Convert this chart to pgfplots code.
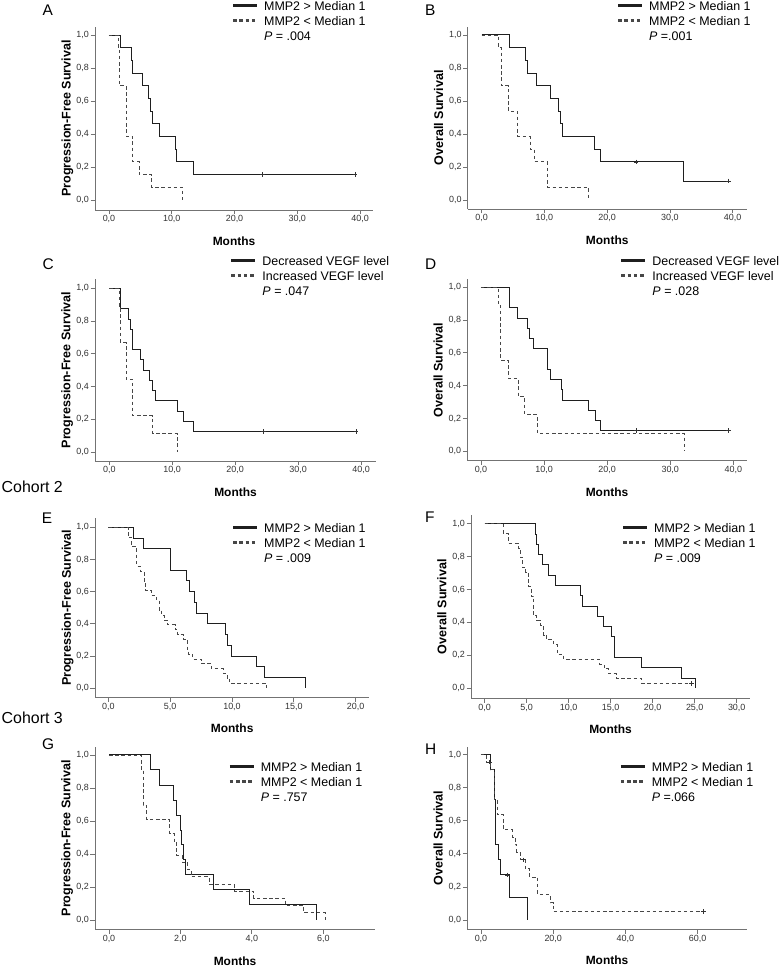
\documentclass[border=0pt]{standalone}
\usepackage{fontspec}
\setmainfont{Liberation Sans}
\usepackage{pgfplots}
\pgfplotsset{compat=1.18}

\pgfplotsset{
  km/.style={
    scale only axis,
    axis lines=left,
    axis line style={-, black!55, line width=0.8bp},
    tick align=outside,
    major tick length=4.5bp,
    tick style={black!55, line width=0.8bp},
    enlargelimits=false,
    ytick={0,0.2,0.4,0.6,0.8,1},
    ymin=-0.058, ymax=1.05,
    /pgf/number format/assume math mode=true,
    /pgf/number format/.cd, fixed, fixed zerofill, precision=1, use comma, /pgfplots/.cd,
    ticklabel style={font=\fontsize{9}{10}\selectfont, text=black!80},
    xticklabel style={inner sep=1bp},
    yticklabel style={inner sep=1.5bp},
    xlabel={Months},
    xlabel style={at={(axis description cs:0.5,0)}, anchor=base, yshift=-35.5bp,
      font=\bfseries\fontsize{12}{14}\selectfont},
    ylabel style={at={(axis description cs:-0.088,0.5)}, anchor=base,
      font=\bfseries\fontsize{12.6}{14}\selectfont},
    legend cell align=left,
    legend style={draw=none, fill=none, inner sep=0pt, outer sep=0pt, anchor=north west,
      row sep=5.9bp, column sep=5.5bp, font=\fontsize{12.5}{14}\selectfont,
      nodes={inner sep=0pt, text height=9.1bp, text depth=0bp}},
    legend image code/.code={\draw[#1, line width=3bp] (0bp,0bp) -- (24bp,0bp);},
  },
  hi/.style={const plot, draw=black!88, line width=0.95bp, mark=none},
  lo/.style={const plot, draw=black!72, line width=0.8bp, mark=none, dash pattern=on 3.5bp off 2.7bp},
  cens/.style={only marks, mark=+, mark size=2.3bp, mark options={black!80, line width=0.7bp}, forget plot},
}

\newcommand{\panel}[3]{\node[anchor=base west, inner sep=0pt, font=\fontsize{15.5}{16}\selectfont] at (#1bp,#2bp) {#3};}

\begin{document}
\begin{tikzpicture}
\path[use as bounding box] (0,0) rectangle (780bp,967bp);

% ---------- A ----------
\begin{axis}[km, at={(95bp,757bp)}, anchor=south west, width=278bp, height=183bp,
  xmin=-2.23, xmax=42.07, ymin=-0.0606, ymax=1.0485, xtick={0,10,20,30,40},
  ylabel={Progression-Free Survival},
  legend style={at={(axis description cs:0.4917,1.1396)}}]
\addplot[hi] coordinates {(0,1) (1.85,0.923) (3.6,0.846) (3.75,0.769) (5.35,0.692) (6.25,0.615) (6.55,0.538) (6.95,0.462) (8.0,0.385) (10.65,0.308) (10.8,0.231) (13.4,0.154) (39.2,0.154)};
\addlegendentry{MMP2 > Median 1}
\addplot[lo] coordinates {(0,1) (1.5,0.923) (1.6,0.692) (2.7,0.615) (2.75,0.385) (3.8,0.231) (4.8,0.154) (6.8,0.077) (11.7,0)};
\addlegendentry{MMP2 < Median 1}
\addlegendimage{empty legend}
\addlegendentry{\textit{P} = .004}
\addplot[cens] coordinates {(24.5,0.154) (39.2,0.154)};
\end{axis}

% ---------- B ----------
\begin{axis}[km, at={(467.7bp,758bp)}, anchor=south west, width=279bp, height=182.3bp,
  xmin=-2.23, xmax=42.23, ymin=-0.0545, ymax=1.05, xtick={0,10,20,30,40},
  ylabel={Overall Survival},
  legend style={at={(axis description cs:0.534,1.1385)}}]
\addplot[hi] coordinates {(0,1) (4.4,0.923) (6.9,0.846) (7.35,0.769) (8.75,0.692) (10.9,0.615) (12.2,0.538) (12.6,0.462) (12.8,0.385) (17.9,0.308) (18.85,0.231) (32.15,0.115) (39.3,0.115)};
\addlegendentry{MMP2 > Median 1}
\addplot[lo] coordinates {(0,1) (2.65,0.923) (3.1,0.692) (4.25,0.538) (5.75,0.385) (7.7,0.308) (8.4,0.231) (10.45,0.077) (17.05,0)};
\addlegendentry{MMP2 < Median 1}
\addlegendimage{empty legend}
\addlegendentry{\textit{P} =.001}
\addplot[cens] coordinates {(24.6,0.231) (39.3,0.115)};
\end{axis}

% ---------- C ----------
\begin{axis}[km, at={(95bp,506bp)}, anchor=south west, width=281bp, height=181.7bp,
  xmin=-2.27, xmax=42.38, ymin=-0.055, ymax=1.0556, xtick={0,10,20,30,40},
  ylabel={Progression-Free Survival},
  legend style={at={(axis description cs:0.4804,1.1274)}}]
\addplot[hi] coordinates {(0,1) (1.8,0.875) (3.05,0.8125) (3.4,0.75) (3.7,0.625) (5.0,0.5625) (5.5,0.5) (6.45,0.4375) (6.9,0.375) (7.3,0.3125) (10.8,0.25) (11.75,0.1875) (13.45,0.125) (39.2,0.125)};
\addlegendentry{Decreased VEGF level}
\addplot[lo] coordinates {(0,1) (1.6,0.889) (1.8,0.667) (2.65,0.444) (3.7,0.222) (6.9,0.111) (10.85,0)};
\addlegendentry{Increased VEGF level}
\addlegendimage{empty legend}
\addlegendentry{\textit{P} = .047}
\addplot[cens] coordinates {(24.5,0.125) (39.2,0.125)};
\end{axis}

% ---------- D ----------
\begin{axis}[km, at={(467.3bp,506.3bp)}, anchor=south west, width=279.4bp, height=181.4bp,
  xmin=-2.17, xmax=42.12, ymin=-0.0573, ymax=1.0488, xtick={0,10,20,30,40},
  ylabel={Overall Survival},
  legend style={at={(axis description cs:0.5465,1.1276)}}]
\addplot[hi] coordinates {(0,1) (4.5,0.875) (5.8,0.8125) (7.4,0.75) (7.75,0.6875) (8.3,0.625) (10.55,0.5) (10.95,0.4375) (12.8,0.375) (12.95,0.3125) (17.0,0.25) (18.2,0.1875) (18.95,0.125) (39.2,0.125)};
\addlegendentry{Decreased VEGF level}
\addplot[lo] coordinates {(0,1) (2.75,0.889) (3.15,0.556) (4.35,0.444) (5.9,0.333) (6.95,0.222) (8.9,0.111) (32.2,0)};
\addlegendentry{Increased VEGF level}
\addlegendimage{empty legend}
\addlegendentry{\textit{P} = .028}
\addplot[cens] coordinates {(24.6,0.125) (39.2,0.125)};
\end{axis}

% ---------- E ----------
\begin{axis}[km, at={(95bp,269.7bp)}, anchor=south west, width=274.3bp, height=179bp,
  xmin=-1.075, xmax=21.1, ymin=-0.056, ymax=1.056, xtick={0,5,10,15,20},
  ylabel={Progression-Free Survival},
  legend style={at={(axis description cs:0.4984,0.9729)}}]
\addplot[hi] coordinates {(0,1) (2.0,0.933) (2.85,0.867) (5.0,0.733) (6.35,0.667) (6.6,0.6) (6.95,0.533) (7.1,0.467) (8.05,0.4) (9.45,0.333) (9.65,0.267) (9.95,0.2) (12.0,0.133) (12.6,0.067) (15.95,0)};
\addlegendentry{MMP2 > Median 1}
\addplot[lo] coordinates {(0,1) (1.6,0.939) (1.9,0.879) (2.3,0.758) (2.6,0.727) (2.9,0.667) (3.0,0.606) (3.5,0.576) (3.9,0.545) (4.1,0.485) (4.3,0.455) (4.5,0.424) (4.8,0.394) (5.4,0.364) (5.6,0.333) (6.1,0.303) (6.4,0.242) (6.5,0.212) (6.8,0.182) (7.5,0.152) (8.3,0.121) (9.3,0.091) (9.6,0.061) (9.8,0.030) (12.8,0)};
\addlegendentry{MMP2 < Median 1}
\addlegendimage{empty legend}
\addlegendentry{\textit{P} = .009}
\end{axis}

% ---------- F ----------
\begin{axis}[km, at={(471bp,268.7bp)}, anchor=south west, width=279bp, height=183.3bp,
  xmin=-1.63, xmax=31.58, ymin=-0.061, ymax=1.053, xtick={0,5,10,15,20,25,30},
  ylabel={Overall Survival},
  legend style={at={(axis description cs:0.5401,0.9555)}}]
\addplot[hi] coordinates {(0,1) (6.0,0.9375) (6.2,0.875) (6.45,0.8125) (6.9,0.75) (7.6,0.6875) (8.45,0.625) (11.35,0.5625) (11.65,0.5) (13.45,0.4375) (14.15,0.375) (15.05,0.3125) (15.4,0.1875) (18.7,0.125) (23.45,0.0625) (25.05,0)};
\addlegendentry{MMP2 > Median 1}
\addplot[lo] coordinates {(0,1) (2.2,0.941) (2.8,0.882) (4.0,0.853) (4.2,0.794) (4.5,0.735) (4.9,0.706) (5.2,0.618) (5.5,0.559) (5.8,0.441) (6.2,0.412) (6.6,0.382) (7.0,0.324) (7.4,0.294) (8.2,0.265) (8.6,0.206) (9.4,0.176) (13.7,0.147) (14.2,0.118) (14.7,0.088) (15.7,0.059) (18.7,0.029) (24.6,0.029)};
\addlegendentry{MMP2 < Median 1}
\addlegendimage{empty legend}
\addlegendentry{\textit{P} = .009}
\addplot[cens] coordinates {(24.6,0.029)};
\end{axis}

% ---------- G ----------
\begin{axis}[km, at={(95bp,37.3bp)}, anchor=south west, width=280bp, height=183bp,
  xmin=-0.392, xmax=7.447, ymin=-0.059, ymax=1.05, xtick={0,2,4,6},
  ylabel={Progression-Free Survival},
  legend style={at={(axis description cs:0.4761,0.9156)}}]
\addplot[hi] coordinates {(0,1) (1.17,0.909) (1.41,0.818) (1.8,0.727) (1.88,0.636) (1.99,0.545) (2.04,0.455) (2.09,0.364) (2.13,0.273) (2.93,0.182) (3.93,0.091) (5.81,0)};
\addlegendentry{MMP2 > Median 1}
\addplot[lo] coordinates {(0,1) (0.9,0.913) (0.95,0.696) (1.05,0.609) (1.7,0.522) (1.82,0.478) (1.9,0.391) (2.05,0.348) (2.2,0.304) (2.3,0.261) (2.8,0.217) (3.5,0.174) (4.05,0.13) (4.95,0.087) (5.45,0.043) (6.05,0)};
\addlegendentry{MMP2 < Median 1}
\addlegendimage{empty legend}
\addlegendentry{\textit{P} = .757}
\end{axis}

% ---------- H ----------
\begin{axis}[km, at={(467.3bp,37.7bp)}, anchor=south west, width=279.4bp, height=182.6bp,
  xmin=-3.79, xmax=73.57, ymin=-0.056, ymax=1.048, xtick={0,20,40,60},
  ylabel={Overall Survival},
  legend style={at={(axis description cs:0.544,0.9154)}}]
\addplot[hi] coordinates {(0,1) (2.5,0.909) (3.7,0.727) (4.0,0.455) (4.8,0.364) (5.4,0.273) (7.75,0.136) (12.9,0)};
\addlegendentry{MMP2 > Median 1}
\addplot[lo] coordinates {(0,1) (1.6,0.955) (2.7,0.909) (3.7,0.727) (4.5,0.636) (6.2,0.545) (8.75,0.5) (9.4,0.455) (9.9,0.409) (10.8,0.364) (12.2,0.312) (13.5,0.26) (15.7,0.156) (19.1,0.104) (20.0,0.052) (61.6,0.052)};
\addlegendentry{MMP2 < Median 1}
\addlegendimage{empty legend}
\addlegendentry{\textit{P} =.066}
\addplot[cens] coordinates {(7.4,0.273)};
\addplot[cens] coordinates {(2.3,0.955) (11.7,0.364) (61.6,0.052)};
\end{axis}

% panel letters and cohort headings
\panel{42.3}{951}{A}
\panel{425}{951}{B}
\panel{42.3}{697}{C}
\panel{425}{697}{D}
\panel{41.7}{443.7}{E}
\panel{425}{444.3}{F}
\panel{42}{217}{G}
\panel{425}{212.7}{H}
\node[anchor=base west, inner sep=0pt, font=\fontsize{16}{17}\selectfont] at (1.5bp,474bp) {Cohort 2};
\node[anchor=base west, inner sep=0pt, font=\fontsize{16}{17}\selectfont] at (1.5bp,243bp) {Cohort 3};
\end{tikzpicture}
\end{document}
